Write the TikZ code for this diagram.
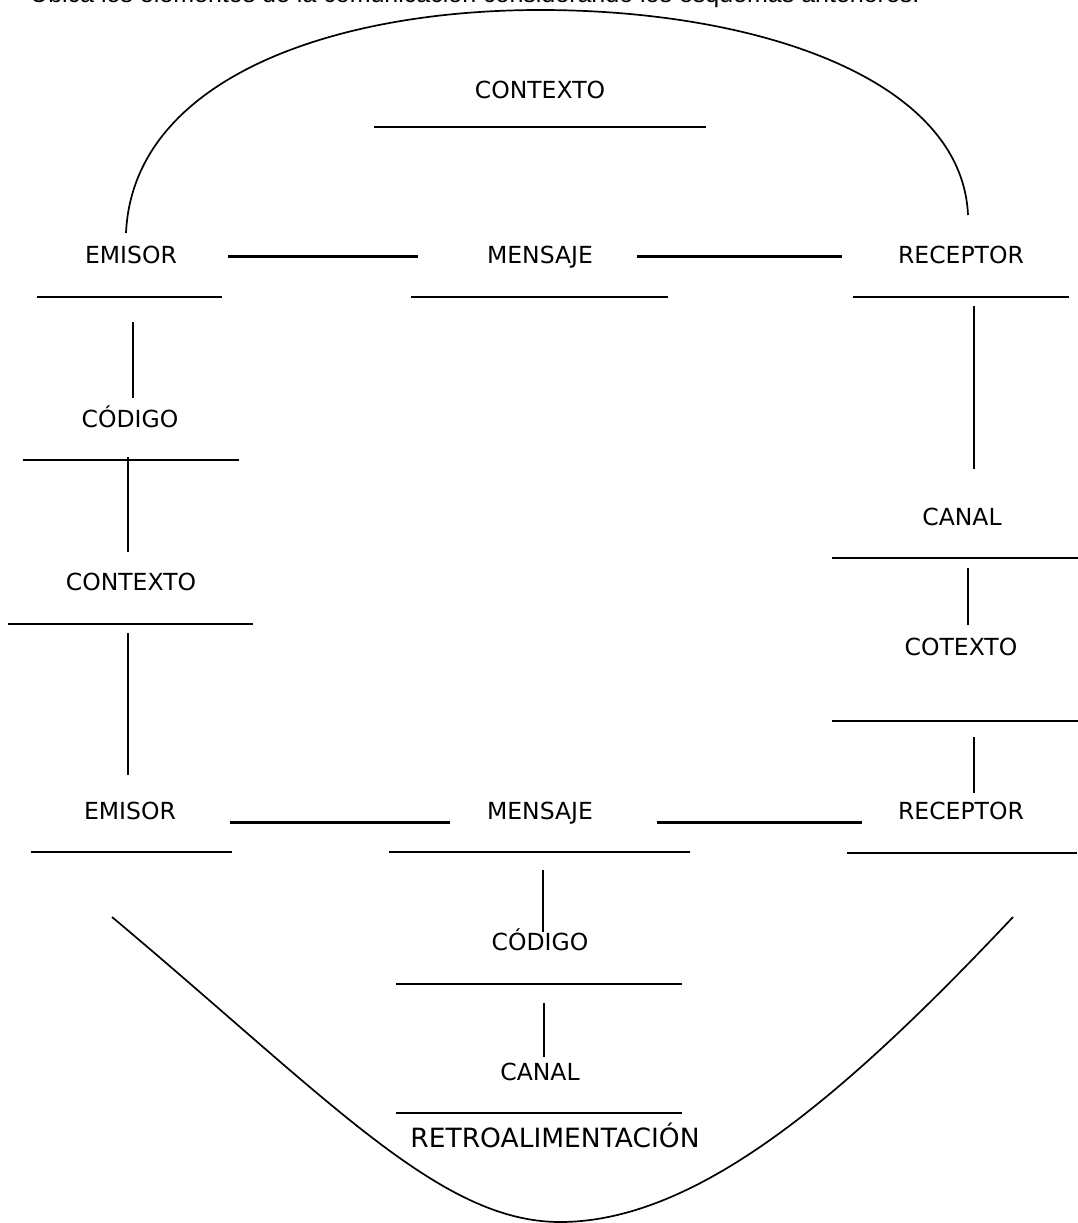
\documentclass[tikz,border=0pt]{standalone}
\usepackage{fontspec}
\setmainfont{DejaVu Sans}
\newfontfamily\topfont{Liberation Sans}
\begin{document}
\begin{tikzpicture}[x=1pt,y=-1pt,
  lbl/.style={font=\fontsize{23.5}{27}\selectfont, inner sep=0pt, anchor=base},
  blank/.style={line width=1.7pt},
  link/.style={line width=3pt},
  vlink/.style={line width=2.5pt},
  curve/.style={line width=1.7pt}]
\useasboundingbox (0,0) rectangle (1078,1223);

% title (cut off at the top, as in the reference)
\node[font=\topfont\fontsize{25}{30}\selectfont, inner sep=0pt, anchor=base west] (title) at (30,3)
  {Ubica los elementos de la comunicación considerando los esquemas anteriores.};

% labels
\node[lbl] (ctx0) at (540,99) {CONTEXTO};
\node[lbl] (emi1) at (131,263) {EMISOR};
\node[lbl] (men1) at (540,263) {MENSAJE};
\node[lbl] (rec1) at (961,263) {RECEPTOR};
\node[lbl] (cod1) at (130,427) {CÓDIGO};
\node[lbl] (ctx1) at (131,590) {CONTEXTO};
\node[lbl] (emi2) at (130,819) {EMISOR};
\node[lbl] (men2) at (540,819) {MENSAJE};
\node[lbl] (rec2) at (961,819) {RECEPTOR};
\node[lbl] (can1) at (962,525) {CANAL};
\node[lbl] (cot1) at (961,655) {COTEXTO};
\node[lbl] (cod2) at (540,950) {CÓDIGO};
\node[lbl] (can2) at (540,1080) {CANAL};
\node[lbl, font=\fontsize{26.5}{30}\selectfont] (retro) at (555,1147) {RETROALIMENTACIÓN};

% blanks (underlines)
\draw[blank] (374,127) -- (706,127);
\draw[blank] (37,297) -- (222,297);
\draw[blank] (411,297) -- (668,297);
\draw[blank] (853,297) -- (1069,297);
\draw[blank] (23,460) -- (239,460);
\draw[blank] (8,624) -- (253,624);
\draw[blank] (31,852) -- (232,852);
\draw[blank] (389,852) -- (690,852);
\draw[blank] (847,853) -- (1077,853);
\draw[blank] (832,558) -- (1078,558);
\draw[blank] (832,721) -- (1078,721);
\draw[blank] (396,984) -- (682,984);
\draw[blank] (396,1113) -- (682,1113);

% horizontal connectors
\draw[link] (228,256) -- (418,256);
\draw[link] (637,256) -- (842,256);
\draw[link] (230,822) -- (450,822);
\draw[link] (657,822) -- (862,822);

% vertical connectors
\draw[vlink] (133,322) -- (133,398);
\draw[vlink] (128,457) -- (128,552);
\draw[vlink] (128,633) -- (128,775);
\draw[vlink] (974,306) -- (974,469);
\draw[vlink] (968,568) -- (968,625);
\draw[vlink] (974,737) -- (974,793);
\draw[vlink] (543,870) -- (543,932);
\draw[vlink] (544,1003) -- (544,1057);

% top arc
\draw[curve] (126,233) .. controls (133,80) and (330,10) .. (540,10)
  .. controls (760,10) and (962,80) .. (968,215);

% bottom curve
\draw[curve] (112,917) .. controls (330,1100) and (440,1222) .. (560,1222)
  .. controls (700,1222) and (850,1090) .. (1013,917);
\end{tikzpicture}
\end{document}
